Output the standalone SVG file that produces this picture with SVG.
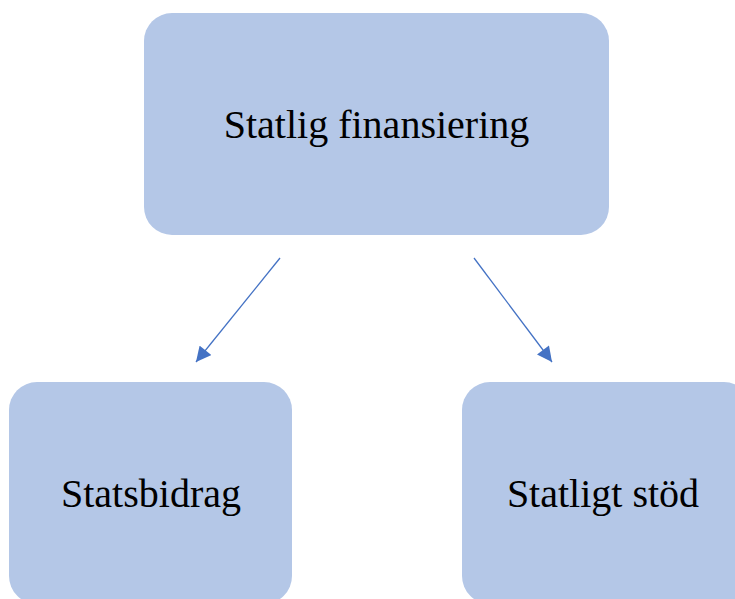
<svg xmlns="http://www.w3.org/2000/svg" width="735" height="599" viewBox="0 0 735 599">
<style>
.box{fill:#B4C7E7;}
.lbl{font-family:"Liberation Serif","Times New Roman",serif;font-size:40px;fill:#000;text-anchor:middle;}
.conn{stroke:#4472C4;stroke-width:1.3;fill:none;marker-end:url(#ah);}
</style>
<defs>
<marker id="ah" viewBox="0 0 10 10" refX="10" refY="5" markerWidth="16" markerHeight="15" markerUnits="userSpaceOnUse" orient="auto">
<path d="M0,0 L10,5 L0,10 z" fill="#4472C4"/>
</marker>
</defs>
<rect width="735" height="599" fill="#fff"/>
<g id="connectors">
<line class="conn" x1="280" y1="258" x2="196" y2="362"/>
<line class="conn" x1="474" y1="258" x2="552" y2="362"/>
</g>
<g id="node-top">
<rect class="box" x="144" y="13" width="465" height="222" rx="28"/>
<text class="lbl" x="376.5" y="138">Statlig finansiering</text>
</g>
<g id="node-left">
<rect class="box" x="9" y="382" width="283" height="222" rx="28"/>
<text class="lbl" x="151" y="507">Statsbidrag</text>
</g>
<g id="node-right">
<rect class="box" x="462" y="382" width="290" height="222" rx="28"/>
<text class="lbl" x="603" y="507">Statligt stöd</text>
</g>
</svg>
